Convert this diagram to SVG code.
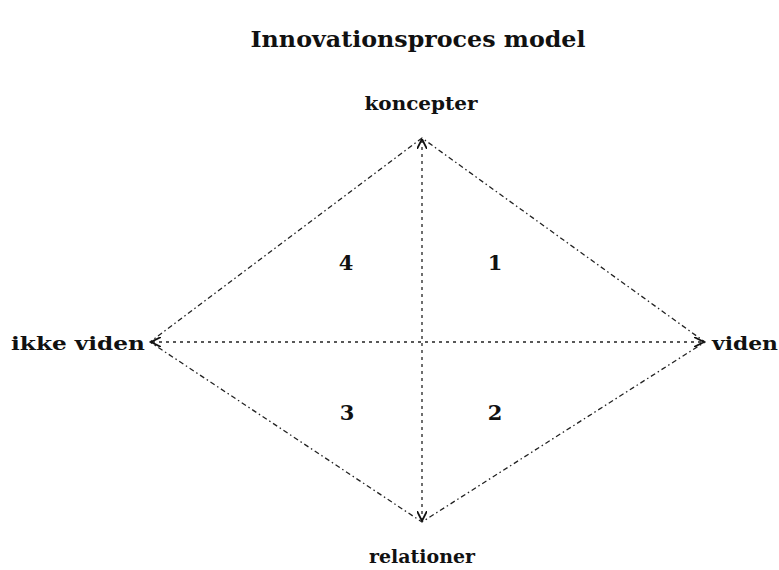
<svg xmlns="http://www.w3.org/2000/svg" width="779" height="570" viewBox="0 0 779 570">
<style>
text{font-family:"DejaVu Serif","Liberation Serif",serif;font-weight:bold;fill:#111}
.edge{stroke:#222;stroke-width:1.3;stroke-dasharray:5 3 1.5 3;fill:none}
.axis{stroke:#222;stroke-width:1.3;stroke-dasharray:3 4;fill:none}
</style>
<defs>
<marker id="ah" viewBox="0 0 10 10" refX="9" refY="5" markerWidth="10" markerHeight="10" markerUnits="userSpaceOnUse" orient="auto-start-reverse">
<path d="M0,0 L10,5 L0,10" fill="none" stroke="#111" stroke-width="1.8"/>
</marker>
</defs>
<rect width="779" height="570" fill="#fff"/>
<text x="418" y="47" font-size="22" text-anchor="middle" textLength="335" lengthAdjust="spacingAndGlyphs">Innovationsproces model</text>
<g id="connectors">
<path class="edge" d="M422,138 L150,342 L422,522 L705,342 Z"/>
<line class="axis" x1="422" y1="140" x2="422" y2="520" marker-start="url(#ah)" marker-end="url(#ah)"/>
<line class="axis" x1="152" y1="342" x2="703" y2="342" marker-start="url(#ah)" marker-end="url(#ah)"/>
</g>
<g id="koncepter"><text x="421" y="110" font-size="19" text-anchor="middle" textLength="113" lengthAdjust="spacingAndGlyphs">koncepter</text></g>
<g id="ikke-viden"><text x="78" y="350" font-size="19" text-anchor="middle" textLength="134" lengthAdjust="spacingAndGlyphs">ikke viden</text></g>
<g id="viden"><text x="745" y="350" font-size="19" text-anchor="middle" textLength="66" lengthAdjust="spacingAndGlyphs">viden</text></g>
<g id="relationer"><text x="422" y="563" font-size="19" text-anchor="middle" textLength="106" lengthAdjust="spacingAndGlyphs">relationer</text></g>
<g id="q4"><text x="346" y="270" font-size="21" text-anchor="middle">4</text></g>
<g id="q1"><text x="495" y="270" font-size="21" text-anchor="middle">1</text></g>
<g id="q3"><text x="347" y="420" font-size="21" text-anchor="middle">3</text></g>
<g id="q2"><text x="495" y="420" font-size="21" text-anchor="middle">2</text></g>
</svg>
